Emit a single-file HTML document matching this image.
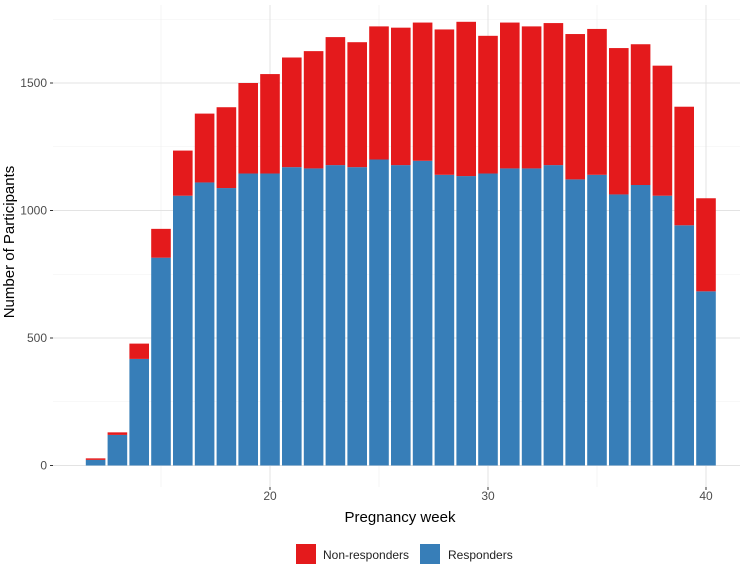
<!DOCTYPE html>
<html><head><meta charset="utf-8"><style>
body{margin:0;background:#fff;font-family:"Liberation Sans",sans-serif}
svg text{font-family:"Liberation Sans",sans-serif}
</style></head><body>
<svg id="chart" width="750" height="565" xmlns="http://www.w3.org/2000/svg">
<g id="grid"></g>
<g id="bars"></g>
<g id="axes"></g>
<text x="400" y="522" text-anchor="middle" font-size="15" fill="#000">Pregnancy week</text>
<text transform="translate(14,242) rotate(-90)" text-anchor="middle" font-size="15" fill="#000">Number of Participants</text>
<g>
<g><rect x="296" y="544" width="20" height="20" fill="#E41A1C"/><text x="323" y="559" font-size="12" fill="#222">Non-responders</text></g>
<g><rect x="420" y="544" width="20" height="20" fill="#377EB8"/><text x="448" y="559" font-size="12" fill="#222">Responders</text></g>
</g>
</svg>
<script>
const weeks=[12,13,14,15,16,17,18,19,20,21,22,23,24,25,26,27,28,29,30,31,32,33,34,35,36,37,38,39,40];
const responders=[22,120,418,815,1058,1110,1088,1145,1145,1170,1165,1178,1170,1200,1178,1195,1140,1135,1145,1165,1165,1178,1122,1140,1063,1100,1058,942,683];
const totals=[28,130,478,928,1235,1380,1405,1500,1535,1600,1625,1680,1660,1722,1717,1737,1710,1740,1685,1737,1722,1735,1692,1712,1637,1652,1568,1407,1048];
const xTicks=[20,30,40];
const yTicks=[0,500,1000,1500];
const NS="http://www.w3.org/2000/svg";
const L=53,R=740,T=5,B=487;
const xs=w=>270+(w-20)*21.8;
const ys=v=>465.5-v*0.255;
function mk(t,a,p){const e=document.createElementNS(NS,t);for(const k in a)e.setAttribute(k,a[k]);p.appendChild(e);return e;}
const grid=document.getElementById('grid'),bars=document.getElementById('bars'),axes=document.getElementById('axes');
[15,25,35].forEach(v=>{const l=mk('line',{x1:xs(v),x2:xs(v),y1:T,y2:B,stroke:'#f0f0f0','stroke-width':0.6},grid);});
[250,750,1250,1750].forEach(v=>{if(ys(v)<T)return;const l=mk('line',{x1:L,x2:R,y1:ys(v),y2:ys(v),stroke:'#f0f0f0','stroke-width':0.6},grid);});
xTicks.forEach(v=>{const l=mk('line',{x1:xs(v),x2:xs(v),y1:T,y2:B,stroke:'#e3e3e3','stroke-width':1},grid);
const tk=mk('line',{x1:xs(v),x2:xs(v),y1:B,y2:B+3,stroke:'#333'},axes);
const t=mk('text',{x:xs(v),y:B+13,'text-anchor':'middle','font-size':12,fill:'#4d4d4d'},axes);t.textContent=v;});
yTicks.forEach(v=>{const l=mk('line',{x1:L,x2:R,y1:ys(v),y2:ys(v),stroke:'#e3e3e3','stroke-width':1},grid);
const tk=mk('line',{x1:L-3,x2:L,y1:ys(v),y2:ys(v),stroke:'#333'},axes);
const t=mk('text',{x:L-6,y:ys(v)+4,'text-anchor':'end','font-size':12,fill:'#4d4d4d'},axes);t.textContent=v;});
const bw=19.6;
weeks.forEach((w,i)=>{const x=xs(w)-bw/2;
const r=mk('rect',{x:x,y:ys(responders[i]),width:bw,height:ys(0)-ys(responders[i]),fill:'#377EB8'},bars);
const n=mk('rect',{x:x,y:ys(totals[i]),width:bw,height:ys(responders[i])-ys(totals[i]),fill:'#E41A1C'},bars);});
</script>
</body></html>
